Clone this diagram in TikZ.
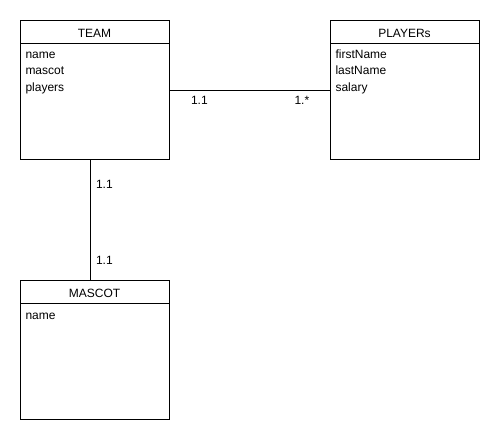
\documentclass[tikz,border=0pt]{standalone}
\usepackage{fontspec}
\setmainfont{Liberation Sans}
\usetikzlibrary{positioning}
\begin{document}
\begin{tikzpicture}[x=1pt,y=-1pt,line width=1pt,
		entity/.style={draw, anchor=north west, inner sep=0pt, minimum width=149pt, minimum height=139pt},
		lbl/.style={anchor=base west, inner sep=0pt, font=\fontsize{12}{14}\selectfont},
		title/.style={anchor=base, inner sep=0pt, font=\fontsize{12}{14}\selectfont}]
	\useasboundingbox (0,0) rectangle (500,440);
	% entities
	\node[entity] (team) at (20,20) {};
	\node[entity] (players) at (330,20) {};
	\node[entity] (mascot) at (20,280) {};
	\draw (team.north west) ++(0,23) -- ++(149,0);
	\draw (players.north west) ++(0,23) -- ++(149,0);
	\draw (mascot.north west) ++(0,23) -- ++(149,0);
	\node[title] (teamtitle) at (94.5,37.5) {TEAM};
	\node[title] (playerstitle) at (404.5,37.5) {PLAYERs};
	\node[title] (mascottitle) at (94.5,297.5) {MASCOT};
	\foreach \t [count=\i] in {name,mascot,players}{
		\node[lbl] (teamattr\i) at (25,41.5+\i*16.6) {\t};
	}
	\foreach \t [count=\i] in {firstName,lastName,salary}{
		\node[lbl] (playersattr\i) at (335,41.5+\i*16.6) {\t};
	}
	\node[lbl] (mascotattr1) at (25,319) {name};
	% relations
	\draw (team.east) -- (players.west);
	\draw ([xshift=-4.5pt]team.south) -- ([xshift=-4.5pt]mascot.north);
	\node[lbl] (teamone) at (190.5,104) {1.1};
	\node[lbl] (playersmany) at (294,104) {1.*};
	\node[lbl] (teamoneb) at (95.5,188) {1.1};
	\node[lbl] (mascotone) at (95.5,264) {1.1};
\end{tikzpicture}
\end{document}
